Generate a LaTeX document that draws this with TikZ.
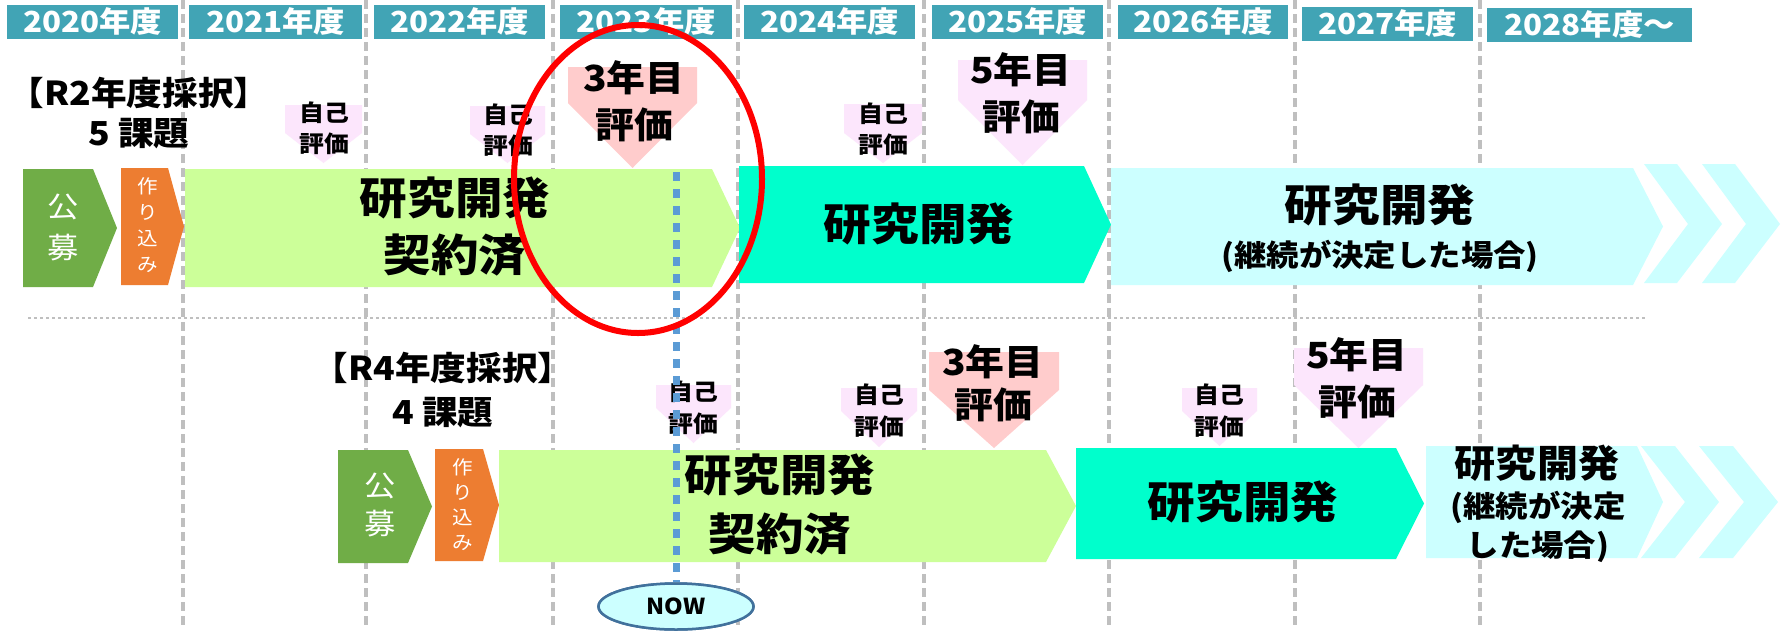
\documentclass[tikz,border=0pt]{standalone}
\usepackage{fontspec}
\setmainfont{Noto Sans CJK JP}[FakeStretch=1.08]
\usetikzlibrary{shapes.geometric}
\definecolor{hdrc}{HTML}{41A4B5}
\definecolor{gbox}{HTML}{70AD47}
\definecolor{obox}{HTML}{ED7D31}
\definecolor{lgbox}{HTML}{CCFF99}
\definecolor{tbox}{HTML}{00FFCC}
\definecolor{cbox}{HTML}{CCFFFF}
\definecolor{pinkA}{HTML}{FFCCCC}
\definecolor{pinkB}{HTML}{FCE6FC}
\definecolor{grayl}{HTML}{BFBFBF}
\definecolor{blued}{HTML}{5B9BD5}
\definecolor{nowb}{HTML}{41719C}
\newcommand\fs[2]{\fontsize{#1}{#2}\selectfont}
\newcommand\dmark[6]{\fill[#6] (#1,#3) -- (#2,#3) -- (#2,#4) -- ({(#1+#2)/2},#5) -- (#1,#4) -- cycle;}
\newcommand\rarrow[6]{\fill[#6] (#1,#3) -- (#2,#3) -- (#5,{(#3+#4)/2}) -- (#2,#4) -- (#1,#4) -- cycle;}
\newcommand\chev[7]{\fill[cbox] (#1,#5) -- (#2,#5) -- (#3,#7) -- (#2,#6) -- (#1,#6) -- (#4,#7) -- cycle;}
\begin{document}
\begin{tikzpicture}[x=1pt,y=-1pt,
  hdr/.style={fill=hdrc, text=white, font=\bfseries\fs{29}{29}, inner sep=0pt, anchor=north west, minimum height=33.5pt},
  lbl/.style={inner sep=0pt, align=center, text=black, font=\bfseries},
  wlbl/.style={inner sep=0pt, align=center, text=white},
  vline/.style={draw=grayl, line width=3.5pt, dash pattern=on 9pt off 5pt},
  hline/.style={draw=grayl, line width=2pt, dash pattern=on 3pt off 3pt},
  bluedash/.style={draw=blued, line width=7pt, dash pattern=on 9pt off 8pt},
  nowst/.style={ellipse, draw=nowb, fill=cbox, line width=2.5pt, minimum width=155pt, minimum height=46pt, inner sep=0pt, font=\bfseries\fs{22}{22}}
]
\useasboundingbox[fill=white] (0,0) rectangle (1789,630);

% vertical year separators
\foreach \x in {183,366,553,738,924,1109,1295,1480}{
  \draw[vline] (\x,0) -- (\x,625);
}
% row separator
\draw[hline] (28,318) -- (1646,318);

% headers
\node[hdr, minimum width=171pt] (h0) at (7,5) {2020年度};
\node[hdr, minimum width=173pt] (h1) at (189,5) {2021年度};
\node[hdr, minimum width=171pt] (h2) at (374,5) {2022年度};
\node[hdr, minimum width=172pt] (h3) at (560,5) {2023年度};
\node[hdr, minimum width=171pt] (h4) at (744,5) {2024年度};
\node[hdr, minimum width=171pt] (h5) at (932,5) {2025年度};
\node[hdr, minimum width=170pt] (h6) at (1118,5) {2026年度};
\node[hdr, minimum width=171pt] (h7) at (1302,7) {2027年度};
\node[hdr, minimum width=205pt] (h8) at (1487,8) {2028年度～};

% row 1 bars
\rarrow{23}{93}{169}{287}{117}{gbox}
\rarrow{121}{168}{168}{285}{184}{obox}
\rarrow{185}{712}{169}{287}{740}{lgbox}
\rarrow{739}{1084}{166}{283}{1111}{tbox}
\rarrow{1111}{1633}{168}{285}{1663}{cbox}
\chev{1644}{1677}{1722}{1688}{164}{283}{224}
\chev{1702}{1735}{1780}{1746}{164}{283}{224}

% row 2 bars
\rarrow{338}{408}{450}{563}{432}{gbox}
\rarrow{435}{483}{449}{561}{499}{obox}
\rarrow{499}{1046}{450}{562}{1076}{lgbox}
\rarrow{1076}{1396}{448}{559}{1424}{tbox}
\rarrow{1426}{1637}{446}{558}{1663}{cbox}
\chev{1641}{1675}{1719}{1685}{446}{558}{502}
\chev{1699}{1733}{1778}{1744}{446}{558}{502}

% row 1 markers
\dmark{285}{362}{105}{133}{163}{pinkB}
\dmark{470}{545}{106}{134}{163}{pinkB}
\dmark{568}{697}{67}{103}{168}{pinkA}
\dmark{844}{922}{104}{133}{163}{pinkB}
\dmark{958}{1087}{60}{100}{165}{pinkB}

% row 2 markers
\dmark{656}{731}{385}{408}{443}{pinkB}
\dmark{841}{917}{388}{411}{447}{pinkB}
\dmark{929}{1059}{352}{390}{448}{pinkA}
\dmark{1182}{1257}{388}{411}{446}{pinkB}
\dmark{1294}{1423}{348}{385}{448}{pinkB}

% row 1 texts
\node[lbl, font=\bfseries\fs{33}{40}] (r2) at (139,113) {【R2年度採択】\\5 課題};
\node[wlbl, font=\fs{29}{41}] (g1t) at (63,227.5) {公\\募};
\node[wlbl, font=\fs{19}{26}] (o1t) at (148,225.5) {作\\り\\込\\み};
\node[lbl, font=\bfseries\fs{44}{57}] (lg1t) at (455,226.5) {研究開発\\契約済};
\node[lbl, font=\bfseries\fs{44}{50}] (t1t) at (919,224) {研究開発};
\node[lbl, font=\bfseries\fs{44}{50}] (c1a) at (1380,205) {研究開発};
\node[lbl, font=\bfseries\fs{30}{36}] (c1b) at (1380,256) {(継続が決定した場合)};
\node[lbl, font=\bfseries\fs{23}{31}] (m1t) at (324,128) {自己\\評価};
\node[lbl, font=\bfseries\fs{23}{31}] (m2t) at (508,130) {自己\\評価};
\node[lbl, font=\bfseries\fs{36}{47}] (m3t) at (634,101) {3年目\\評価};
\node[lbl, font=\bfseries\fs{23}{31}] (m4t) at (883,129) {自己\\評価};
\node[lbl, font=\bfseries\fs{36}{47}] (m5t) at (1021,93.5) {5年目\\評価};

% row 2 texts
\node[lbl, font=\bfseries\fs{33}{44}] (r4) at (443,390) {【R4年度採択】\\4 課題};
\node[wlbl, font=\fs{29}{38}] (g2t) at (380,505) {公\\募};
\node[wlbl, font=\fs{19}{25}] (o2t) at (463,504.5) {作\\り\\込\\み};
\node[lbl, font=\bfseries\fs{44}{59}] (lg2t) at (780,504.5) {研究開発\\契約済};
\node[lbl, font=\bfseries\fs{44}{50}] (t2t) at (1243,502) {研究開発};
\node[lbl, font=\bfseries\fs{38}{44}] (c2a) at (1537,463.5) {研究開発};
\node[lbl, font=\bfseries\fs{30}{39}] (c2b) at (1538,526.5) {(継続が決定\\した場合)};
\node[lbl, font=\bfseries\fs{23}{32}] (n1t) at (693,408) {自己\\評価};
\node[lbl, font=\bfseries\fs{23}{32}] (n2t) at (879,411) {自己\\評価};
\node[lbl, font=\bfseries\fs{36}{43}] (n3t) at (993,383.5) {3年目\\評価};
\node[lbl, font=\bfseries\fs{23}{32}] (n4t) at (1219,411) {自己\\評価};
\node[lbl, font=\bfseries\fs{36}{47}] (n5t) at (1357,378.5) {5年目\\評価};

% NOW marker
\node[nowst] (now) at (676,606.5) {NOW};
\coordinate (nowtop) at (676,172);
\draw[bluedash] (nowtop) -- (now.north);
\node[nowst] at (now) {NOW};

% red highlight ellipse
\draw[red, line width=6pt] (638,179) ellipse [x radius=124, y radius=154];
\end{tikzpicture}
\end{document}
